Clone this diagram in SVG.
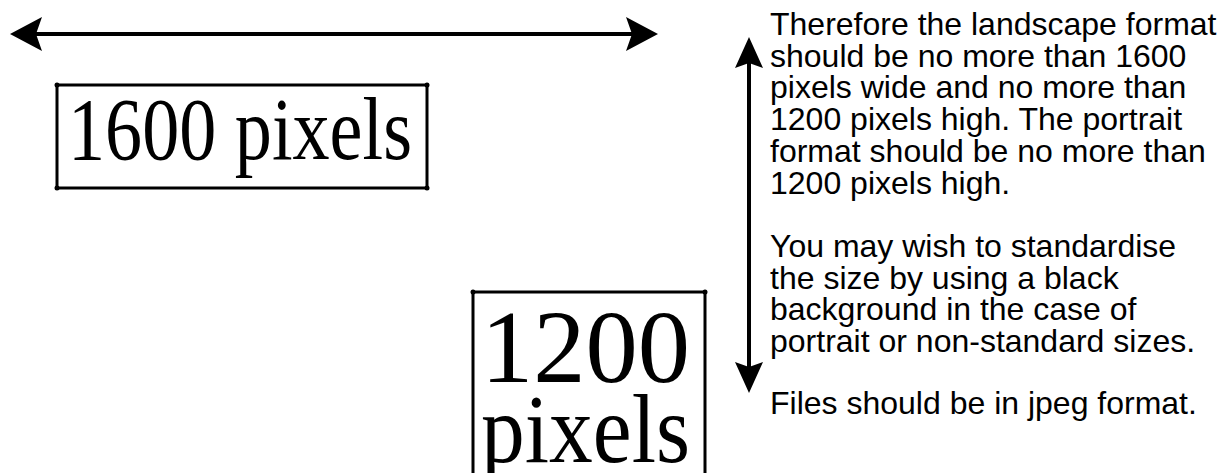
<svg xmlns="http://www.w3.org/2000/svg" width="1222" height="473" viewBox="0 0 1222 473">
<style>
.box{fill:#fff;stroke:#000;stroke-width:3}
.dot{fill:#000}
.serif{font-family:"Liberation Serif","Times New Roman",serif;fill:#000}
.note{font-family:"Liberation Sans",Arial,sans-serif;font-size:32px;fill:#000}
.arrow{stroke:#000;stroke-width:4;fill:none}
</style>
<defs>
<marker id="headH" markerUnits="userSpaceOnUse" viewBox="0 0 32 34" refX="6" refY="17" markerWidth="32" markerHeight="34" orient="auto-start-reverse">
<path d="M0,0 L32,17 L0,34 L6,17 Z" fill="#000"/>
</marker>
<marker id="headV" markerUnits="userSpaceOnUse" viewBox="0 0 31 28" refX="5" refY="14" markerWidth="31" markerHeight="28" orient="auto-start-reverse">
<path d="M0,0 L31,14 L0,28 L5,14 Z" fill="#000"/>
</marker>
</defs>
<rect width="1222" height="473" fill="#fff"/>
<g id="connectors">
<line class="arrow" x1="36" y1="34" x2="632" y2="34" marker-start="url(#headH)" marker-end="url(#headH)"/>
<line class="arrow" x1="749" y1="63" x2="749" y2="367" marker-start="url(#headV)" marker-end="url(#headV)"/>
</g>
<g id="box-1600">
<rect class="box" x="57" y="85" width="370" height="103"/>
<circle class="dot" cx="57" cy="85" r="2.5"/><circle class="dot" cx="427" cy="85" r="2.5"/>
<circle class="dot" cx="57" cy="188" r="2.5"/><circle class="dot" cx="427" cy="188" r="2.5"/>
<text class="serif" x="68" y="159" font-size="89" textLength="344" lengthAdjust="spacingAndGlyphs">1600 pixels</text>
</g>
<g id="box-1200">
<rect class="box" x="473" y="292" width="232" height="200"/>
<circle class="dot" cx="473" cy="292" r="2.5"/><circle class="dot" cx="705" cy="292" r="2.5"/>
<text class="serif" x="481" y="382" font-size="104" textLength="209" lengthAdjust="spacingAndGlyphs">1200</text>
<text class="serif" x="481" y="462" font-size="98" textLength="209" lengthAdjust="spacingAndGlyphs">pixels</text>
</g>
<g id="notes">
<text class="note" x="770" y="35">Therefore the landscape format</text>
<text class="note" x="770" y="66.7">should be no more than 1600</text>
<text class="note" x="770" y="98.4">pixels wide and no more than</text>
<text class="note" x="770" y="130.1">1200 pixels high. The portrait</text>
<text class="note" x="770" y="161.8">format should be no more than</text>
<text class="note" x="770" y="193.5">1200 pixels high.</text>
<text class="note" x="770" y="256.9">You may wish to standardise</text>
<text class="note" x="770" y="288.6">the size by using a black</text>
<text class="note" x="770" y="320.3">background in the case of</text>
<text class="note" x="770" y="352">portrait or non-standard sizes.</text>
<text class="note" x="770" y="414">Files should be in jpeg format.</text>
</g>
</svg>
